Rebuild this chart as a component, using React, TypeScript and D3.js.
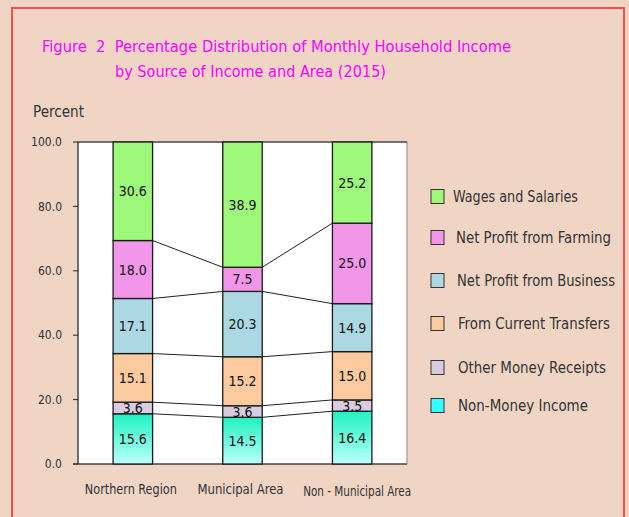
import React from "react";
import * as d3 from "d3";

const categories = ["Northern Region", "Municipal Area", "Non - Municipal Area"];
const seriesNames = [
  "Non-Money Income",
  "Other Money Receipts",
  "From Current Transfers",
  "Net Profit from Business",
  "Net Profit from Farming",
  "Wages and Salaries",
];
const nonMoney = [15.6, 14.5, 16.4];
const otherReceipts = [3.6, 3.6, 3.5];
const transfers = [15.1, 15.2, 15.0];
const business = [17.1, 20.3, 14.9];
const farming = [18.0, 7.5, 25.0];
const wages = [30.6, 38.9, 25.2];
const yTicks = [0, 20, 40, 60, 80, 100];

const seriesValues = [nonMoney, otherReceipts, transfers, business, farming, wages];
const fills = ["url(#nmGrad)", "#d8cde0", "#fbcb9f", "#acd8e4", "#f296ea", "#9ef87a"];
const legendFills = ["#33ffff", "#d8cde0", "#fbcb9f", "#acd8e4", "#f296ea", "#9ef87a"];
const legendOrder = [5, 4, 3, 2, 1, 0];
const legendY = [197, 238, 281, 324, 368, 406];
const legendTextX = [453, 456, 457, 458, 458, 458];
const legendTextW = [125, 155, 158, 152, 148, 130];

const FONT = "'DejaVu Sans Condensed', 'DejaVu Sans', Verdana, sans-serif";

export default function App() {
  const W = 629, H = 517;
  const x = d3.scaleBand<string>().domain(categories).range([78, 407]).paddingInner(0.64).paddingOuter(0.32);
  const y = d3.scaleLinear().domain([0, 100]).range([464, 142]);

  const table = categories.map((c, i) => {
    const o: any = { cat: c };
    seriesNames.forEach((s, j) => (o[s] = seriesValues[j][i]));
    return o;
  });
  const stacked = d3.stack<any>().keys(seriesNames)(table);
  const bw = x.bandwidth();

  const xLabelW = [92, 86, 108];

  return (
    <svg width={W} height={H} style={{ position: "absolute", left: 0, top: 0 }} fontFamily={FONT}>
      <defs>
        <linearGradient id="nmGrad" x1="0" y1="0" x2="0" y2="1">
          <stop offset="0" stopColor="#1ff3c0" />
          <stop offset="1" stopColor="#bcfffb" />
        </linearGradient>
      </defs>
      <rect x={0} y={0} width={W} height={H} fill="#f0d5c5" />
      <rect x={12} y={8} width={612} height={530} fill="none" stroke="#ff4a4a" strokeWidth={2} />

      <text x={42} y={52} fontSize={15.5} fill="#ff00ff" textLength={469} lengthAdjust="spacingAndGlyphs" xmlSpace="preserve">
        Figure  2  Percentage Distribution of Monthly Household Income
      </text>
      <text x={115} y={77} fontSize={15.5} fill="#ff00ff" textLength={271} lengthAdjust="spacingAndGlyphs">
        by Source of Income and Area (2015)
      </text>
      <text x={33} y={117} fontSize={15} fill="#333" textLength={51} lengthAdjust="spacingAndGlyphs">
        Percent
      </text>

      <rect x={78} y={142} width={329} height={322} fill="#ffffff" stroke="#8a8a8a" strokeWidth={1} />
      <line x1={78} y1={142} x2={407} y2={142} stroke="#222" />
      <line x1={78} y1={142} x2={78} y2={464} stroke="#222" />
      <line x1={73} y1={464} x2={407} y2={464} stroke="#222" />

      {yTicks.map((t) => (
        <g key={t}>
          <line x1={73} x2={78} y1={y(t)} y2={y(t)} stroke="#222" />
          <text x={62} y={y(t)} dy="0.35em" fontSize={12} fill="#333" textAnchor="end">
            {t.toFixed(1)}
          </text>
        </g>
      ))}

      {/* connector lines */}
      {stacked.slice(0, -1).map((s) =>
        categories.slice(0, -1).map((c, i) => (
          <line
            key={s.key + c}
            x1={(x(c) as number) + bw}
            y1={y(s[i][1])}
            x2={x(categories[i + 1]) as number}
            y2={y(s[i + 1][1])}
            stroke="#222"
            strokeWidth={1}
          />
        ))
      )}

      {stacked.map((s, j) =>
        s.map((d, i) => (
          <g key={s.key + i}>
            <rect
              x={x(categories[i])}
              y={y(d[1])}
              width={bw}
              height={y(d[0]) - y(d[1])}
              fill={fills[j]}
              stroke="#1a1a1a"
              strokeWidth={1.3}
            />
            <text
              x={(x(categories[i]) as number) + bw / 2}
              y={(y(d[0]) + y(d[1])) / 2}
              dy="0.36em"
              fontSize={14}
              textAnchor="middle"
              fill="#111"
            >
              {seriesValues[j][i].toFixed(1)}
            </text>
          </g>
        ))
      )}

      {categories.map((c, i) => (
        <text
          key={c}
          x={(x(c) as number) + bw / 2 - 2 + (i === 2 ? 7 : 0)}
          y={494 + (i === 2 ? 2 : 0)}
          fontSize={14.5}
          fill="#333"
          textAnchor="middle"
          textLength={xLabelW[i]}
          lengthAdjust="spacingAndGlyphs"
        >
          {c}
        </text>
      ))}

      {legendOrder.map((j, k) => (
        <g key={seriesNames[j]}>
          <rect x={431} y={legendY[k] - 7.5} width={13} height={14} fill={legendFills[j]} stroke="#333" strokeWidth={1} />
          <text
            x={legendTextX[k]}
            y={legendY[k]}
            dy="0.35em"
            fontSize={15}
            fill="#333"
            textLength={legendTextW[k]}
            lengthAdjust="spacingAndGlyphs"
          >
            {seriesNames[j]}
          </text>
        </g>
      ))}
    </svg>
  );
}
